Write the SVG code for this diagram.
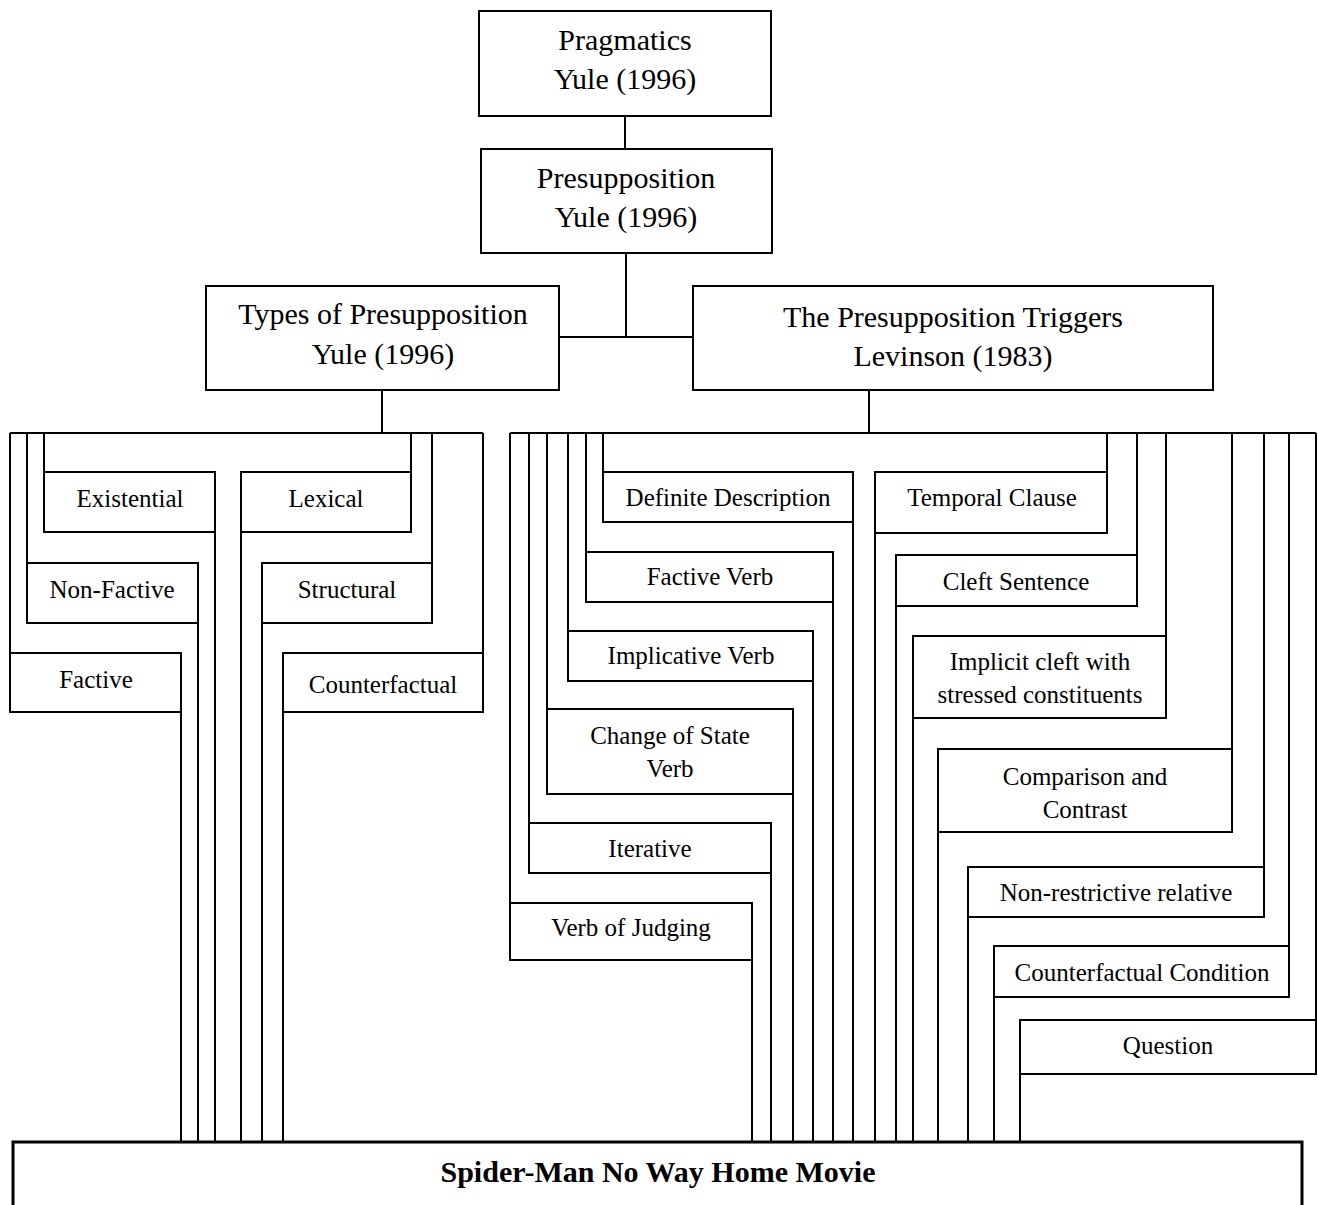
<svg xmlns="http://www.w3.org/2000/svg" width="1318" height="1205" viewBox="0 0 1318 1205">
<style>
rect{fill:#fff;stroke:#000;stroke-width:2}
.c path{fill:none;stroke:#000;stroke-width:2}
text{font-family:"Liberation Serif","Times New Roman",serif;fill:#000;text-anchor:middle}
.h{font-size:30px}
.l{font-size:25px}
.b{font-size:30px;font-weight:bold}
</style>
<rect x="0" y="0" width="1318" height="1205" style="stroke:none"/>
<g class="c" id="connectors">
<path d="M625 116V149M626 253V337M559 337H693M382 390V433M869 390V433"/>
<path d="M10 433H483"/>
<path d="M10 433V653M181 712V1142"/>
<path d="M27 433V563M198 623V1142"/>
<path d="M44 433V472M215 532V1142"/>
<path d="M411 433V472M241 532V1142"/>
<path d="M432 433V563M262 623V1142"/>
<path d="M483 433V653M283 712V1142"/>
<path d="M510 433H1316"/>
<path d="M510 433V903M752 960V1142"/>
<path d="M529 433V823M771 873V1142"/>
<path d="M547 433V709M793 794V1142"/>
<path d="M568 433V631M813 681V1142"/>
<path d="M586 433V552M833 602V1142"/>
<path d="M603 433V472M853 522V1142"/>
<path d="M1107 433V472M875 533V1142"/>
<path d="M1137 433V555M896 606V1142"/>
<path d="M1166 433V636M913 718V1142"/>
<path d="M1232 433V749M938 832V1142"/>
<path d="M1264 433V867M968 917V1142"/>
<path d="M1289 433V946M994 997V1142"/>
<path d="M1316 433V1020M1020 1074V1142"/>
</g>
<g id="pragmatics"><rect x="479" y="11" width="292" height="105"/><text class="h" x="625" y="50">Pragmatics</text><text class="h" x="625" y="89">Yule (1996)</text></g>
<g id="presupposition"><rect x="481" y="149" width="291" height="104"/><text class="h" x="626" y="188">Presupposition</text><text class="h" x="626" y="227">Yule (1996)</text></g>
<g id="types"><rect x="206" y="286" width="353" height="104"/><text class="h" x="383" y="324">Types of Presupposition</text><text class="h" x="383" y="364">Yule (1996)</text></g>
<g id="triggers"><rect x="693" y="286" width="520" height="104"/><text class="h" x="953" y="327">The Presupposition Triggers</text><text class="h" x="953" y="366">Levinson (1983)</text></g>
<g id="existential"><rect x="44" y="472" width="171" height="60"/><text class="l" x="130" y="507">Existential</text></g>
<g id="lexical"><rect x="241" y="472" width="170" height="60"/><text class="l" x="326" y="507">Lexical</text></g>
<g id="non-factive"><rect x="27" y="563" width="171" height="60"/><text class="l" x="112" y="598">Non-Factive</text></g>
<g id="structural"><rect x="262" y="563" width="170" height="60"/><text class="l" x="347" y="598">Structural</text></g>
<g id="factive"><rect x="10" y="653" width="171" height="59"/><text class="l" x="96" y="688">Factive</text></g>
<g id="counterfactual"><rect x="283" y="653" width="200" height="59"/><text class="l" x="383" y="693">Counterfactual</text></g>
<g id="definite-description"><rect x="603" y="472" width="250" height="50"/><text class="l" x="728" y="506">Definite Description</text></g>
<g id="factive-verb"><rect x="586" y="552" width="247" height="50"/><text class="l" x="710" y="585">Factive Verb</text></g>
<g id="implicative-verb"><rect x="568" y="631" width="245" height="50"/><text class="l" x="691" y="664">Implicative Verb</text></g>
<g id="change-of-state"><rect x="547" y="709" width="246" height="85"/><text class="l" x="670" y="744">Change of State</text><text class="l" x="670" y="777">Verb</text></g>
<g id="iterative"><rect x="529" y="823" width="242" height="50"/><text class="l" x="650" y="857">Iterative</text></g>
<g id="verb-of-judging"><rect x="510" y="903" width="242" height="57"/><text class="l" x="631" y="936">Verb of Judging</text></g>
<g id="temporal-clause"><rect x="875" y="472" width="232" height="61"/><text class="l" x="992" y="506">Temporal Clause</text></g>
<g id="cleft-sentence"><rect x="896" y="555" width="241" height="51"/><text class="l" x="1016" y="590">Cleft Sentence</text></g>
<g id="implicit-cleft"><rect x="913" y="636" width="253" height="82"/><text class="l" x="1040" y="670">Implicit cleft with</text><text class="l" x="1040" y="703">stressed constituents</text></g>
<g id="comparison"><rect x="938" y="749" width="294" height="83"/><text class="l" x="1085" y="785">Comparison and</text><text class="l" x="1085" y="818">Contrast</text></g>
<g id="non-restrictive"><rect x="968" y="867" width="296" height="50"/><text class="l" x="1116" y="901">Non-restrictive relative</text></g>
<g id="counterfactual-condition"><rect x="994" y="946" width="295" height="51"/><text class="l" x="1142" y="981">Counterfactual Condition</text></g>
<g id="question"><rect x="1020" y="1020" width="296" height="54"/><text class="l" x="1168" y="1054">Question</text></g>
<g id="movie"><rect x="13" y="1142" width="1289" height="75" style="stroke-width:3"/><text class="b" x="658" y="1182">Spider-Man No Way Home Movie</text></g>
</svg>
